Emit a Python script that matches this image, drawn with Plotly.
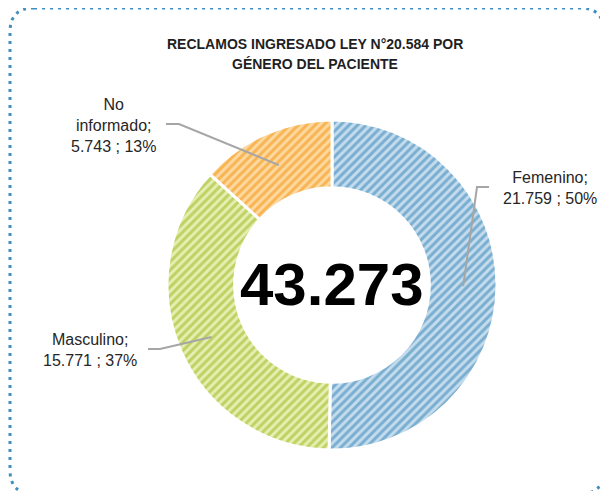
import math
import plotly.graph_objects as go

categories = ["Femenino", "Masculino", "No informado"]
values = [21759, 15771, 5743]
percent_labels = ["50%", "37%", "13%"]
value_labels = ["21.759", "15.771", "5.743"]
total_label = "43.273"
title_lines = ["RECLAMOS INGRESADO LEY N°20.584 POR", "GÉNERO DEL PACIENTE"]

# page body has an 8px margin; figure sized to fit the 608x491 window
OFF = 8
W, H = 608 - OFF, 491 - OFF
fg_colors = ["#2f7fb3", "#93b516", "#f38f05"]
bg_colors = ["#c4dced", "#e6eeb0", "#fdd8a0"]

# pie geometry in window pixels
cx, cy, R = 332, 285, 165
hole = 0.59

def px(x):
    return (x - OFF) / W

def py(y):
    return 1 - (y - OFF) / H

fig = go.Figure()
fig.add_trace(go.Pie(
    labels=categories,
    values=values,
    sort=False,
    direction="clockwise",
    rotation=0,
    hole=hole,
    textinfo="none",
    hoverinfo="label+value+percent",
    showlegend=False,
    domain=dict(x=[px(cx - R), px(cx + R)], y=[py(cy + R), py(cy - R)]),
    marker=dict(
        colors=bg_colors,
        line=dict(color="white", width=3),
        pattern=dict(shape="/", fgcolor=fg_colors, bgcolor=bg_colors,
                     size=6, solidity=0.5, fillmode="overlay"),
    ),
))

# leader-line endpoints from the data (mid-angle of each wedge)
total = sum(values)
cum = 0
mids = []
for v in values:
    a = (cum + v / 2) / total * 2 * math.pi
    cum += v
    r = R * (1 + hole) / 2
    mids.append((cx + r * math.sin(a), cy - r * math.cos(a)))

label_cfg = [
    dict(x=550, y=188, text=f"{categories[0]};<br>{value_labels[0]} ; {percent_labels[0]}",
         path=[(489, 187), (477, 187)]),
    dict(x=90, y=350, text=f"{categories[1]};<br>{value_labels[1]} ; {percent_labels[1]}",
         path=[(148, 349), (160, 349)]),
    dict(x=113, y=126, text=f"No<br>informado;<br>{value_labels[2]} ; {percent_labels[2]}",
         path=[(166, 124), (179, 124)]),
]

shapes = []
annotations = []
for cfg, m in zip(label_cfg, mids):
    pts = cfg["path"] + [m]
    d = "M " + " L ".join(f"{px(x):.5f},{py(y):.5f}" for x, y in pts)
    shapes.append(dict(type="path", path=d, xref="paper", yref="paper",
                       line=dict(color="#a6a6a6", width=2)))
    annotations.append(dict(x=px(cfg["x"]), y=py(cfg["y"]), xref="paper", yref="paper",
                            text=cfg["text"], showarrow=False, align="center",
                            xanchor="center", yanchor="middle",
                            font=dict(family="Liberation Sans, Arial", size=16, color="#262626")))

# center total
annotations.append(dict(x=px(cx), y=py(cy - 1), xref="paper", yref="paper", text=f"<b>{total_label}</b>",
                        showarrow=False, xanchor="center", yanchor="middle",
                        font=dict(family="Liberation Sans, Arial", size=60, color="#000000")))

# title
for i, t in enumerate(title_lines):
    annotations.append(dict(x=px(315), y=py(44 + 20 * i), xref="paper", yref="paper",
                            text=f"<b>{t}</b>", showarrow=False, xanchor="center", yanchor="middle",
                            font=dict(family="Liberation Sans, Arial", size=14, color="#1f1f1f")))

# dotted rounded frame (bottom edge runs just past the window)
x0, y0, x1, y1, rr = 10, 8, 604, 494, 24
frame = (f"M {px(x0+rr)},{py(y0)} L {px(x1-rr)},{py(y0)} Q {px(x1)},{py(y0)} {px(x1)},{py(y0+rr)} "
         f"L {px(x1)},{py(y1-rr)} Q {px(x1)},{py(y1)} {px(x1-rr)},{py(y1)} "
         f"L {px(x0+rr)},{py(y1)} Q {px(x0)},{py(y1)} {px(x0)},{py(y1-rr)} "
         f"L {px(x0)},{py(y0+rr)} Q {px(x0)},{py(y0)} {px(x0+rr)},{py(y0)} Z")
shapes.append(dict(type="path", path=frame, xref="paper", yref="paper",
                   line=dict(color="#3f8fbf", width=3, dash="3px,5px")))

fig.update_layout(
    width=W, height=H,
    margin=dict(l=0, r=0, t=0, b=0),
    paper_bgcolor="white", plot_bgcolor="white",
    shapes=shapes, annotations=annotations,
)

fig.write_html("out.html")
